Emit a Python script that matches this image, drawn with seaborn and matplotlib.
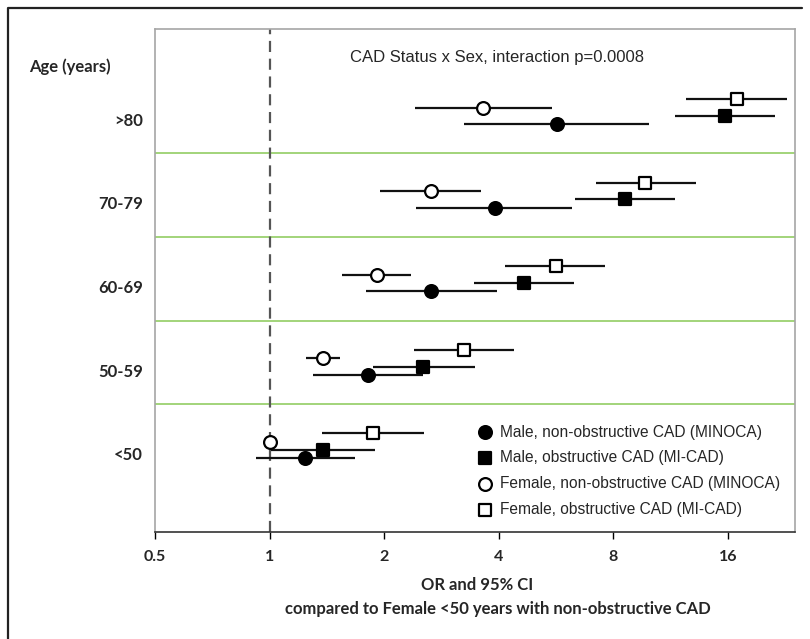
import seaborn as sns
import matplotlib.pyplot as plt
import matplotlib.transforms as mtransforms
from matplotlib.lines import Line2D
import pandas as pd
import numpy as np

# -----------------------
# Data
# -----------------------
groups = [">80", "70-79", "60-69", "50-59", "<50"]

male_minoca_or = [5.69, 3.90, 2.65, 1.81, 1.24]
male_minoca_lo = [3.24, 2.42, 1.79, 1.30, 0.92]
male_minoca_hi = [9.94, 6.23, 3.95, 2.53, 1.68]

male_obs_or = [15.7, 8.59, 4.66, 2.53, 1.38]
male_obs_lo = [11.6, 6.33, 3.44, 1.87, 1.01]
male_obs_hi = [21.3, 11.6, 6.31, 3.46, 1.89]

fem_minoca_or = [3.63, 2.65, 1.91, 1.38, 1.00]
fem_minoca_lo = [2.41, 1.95, 1.55, 1.25, np.nan]   # <50 female is the reference
fem_minoca_hi = [5.52, 3.60, 2.35, 1.53, np.nan]

fem_obs_or = [16.9, 9.70, 5.65, 3.25, 1.87]
fem_obs_lo = [12.4, 7.20, 4.15, 2.39, 1.37]
fem_obs_hi = [22.9, 13.2, 7.61, 4.39, 2.54]

xticks = [0.5, 1, 2, 4, 8, 16]

series = [
    ("Male, non-obstructive CAD (MINOCA)", male_minoca_or, male_minoca_lo, male_minoca_hi),
    ("Male, obstructive CAD (MI-CAD)", male_obs_or, male_obs_lo, male_obs_hi),
    ("Female, non-obstructive CAD (MINOCA)", fem_minoca_or, fem_minoca_lo, fem_minoca_hi),
    ("Female, obstructive CAD (MI-CAD)", fem_obs_or, fem_obs_lo, fem_obs_hi),
]

# style per series: marker, face colour, vertical offset inside the age band
styles = {
    "Male, non-obstructive CAD (MINOCA)": ("o", "black", -0.15),
    "Male, obstructive CAD (MI-CAD)": ("s", "black", -0.05),
    "Female, non-obstructive CAD (MINOCA)": ("o", "white", 0.05),
    "Female, obstructive CAD (MI-CAD)": ("s", "white", 0.15),
}

group_pos = np.arange(len(groups))[::-1]  # >80 on top

rows = []
for name, orv, lo, hi in series:
    for g, p, o, l, h in zip(groups, group_pos, orv, lo, hi):
        rows.append([name, g, p + styles[name][2], o, l, h])
df = pd.DataFrame(rows, columns=["Series", "Age", "y", "OR", "lo", "hi"])

# -----------------------
# Plot
# -----------------------
sns.set_style("white")
plt.rcParams["font.family"] = ["Liberation Sans", "DejaVu Sans"]
calibri = ["Lato", "DejaVu Sans"]

fig = plt.figure(figsize=(8.1, 6.39), dpi=100)
ax = fig.add_axes([155 / 810, 1 - 532 / 639, 640 / 810, 503 / 639])

# separators between age bands
for b in [0.5, 1.5, 2.5, 3.5]:
    ax.axhline(b, color="#9bd16f", lw=1.3, zorder=1)

# reference line at OR = 1
ax.axvline(1, color="#555555", lw=1.6, ls=(0, (5, 3)), zorder=1)

for name, _, _, _ in series:
    sub = df[df["Series"] == name]
    ci = sub.dropna(subset=["lo", "hi"])
    ax.hlines(ci["y"], ci["lo"], ci["hi"], color="#111111", lw=1.6, zorder=2)
    marker, face, _ = styles[name]
    sns.scatterplot(data=sub, x="OR", y="y", marker=marker, color=face,
                    edgecolor="black", linewidth=1.6, s=85, ax=ax,
                    zorder=3, label=name)

ax.set_xscale("log", base=2)
ax.set_xlim(0.5, 24)
ax.set_ylim(-1.03, 4.99)
ax.set_xticks(xticks)
ax.set_xticklabels(["0.5", "1", "2", "4", "8", "16"])
ax.minorticks_off()
ax.set_yticks([])
ax.set_xlabel("")
ax.set_ylabel("")
ax.tick_params(axis="x", direction="out", length=5, width=1, color="black",
               pad=8, bottom=True)
for lab in ax.get_xticklabels():
    lab.set_fontfamily(calibri)
    lab.set_fontweight("bold")
    lab.set_fontsize(11.5)

for side in ["top", "left", "right"]:
    ax.spines[side].set_color("#a6a6a6")
    ax.spines[side].set_linewidth(1.2)
ax.spines["bottom"].set_color("#333333")
ax.spines["bottom"].set_linewidth(1.2)

# age band labels
trans = mtransforms.blended_transform_factory(ax.transAxes, ax.transData)
for g, p in zip(groups, group_pos):
    ax.text(-0.019, p - 0.11, g, transform=trans, ha="right", va="center",
            fontsize=12, fontweight="bold", family=calibri)

fig.text(29 / 810, 1 - 67 / 639, "Age (years)", ha="left", va="center",
         fontsize=12, fontweight="bold", family=calibri)

ax.text(0.534, 0.944, "CAD Status x Sex, interaction p=0.0008",
        transform=ax.transAxes, ha="center", va="center", fontsize=12)

fig.text(477 / 810, 1 - 585 / 639, "OR and 95% CI", ha="center", va="center",
         fontsize=12, fontweight="bold", family=calibri)
fig.text(498 / 810, 1 - 609 / 639,
         "compared to Female <50 years with non-obstructive CAD",
         ha="center", va="center", fontsize=12, fontweight="bold", family=calibri)

ax.legend(loc="lower right", bbox_to_anchor=(1.0, 0.0), frameon=False,
          fontsize=11.2, labelspacing=0.7, handletextpad=0.45,
          handlelength=1.0, borderaxespad=0.55)

# outer frame of the panel
fig.add_artist(Line2D([8 / 810, 8 / 810, 802 / 810], [0, 1 - 8 / 639, 1 - 8 / 639],
                      transform=fig.transFigure, color="#222222", lw=1.6))

fig.savefig("out.png", dpi=100)
